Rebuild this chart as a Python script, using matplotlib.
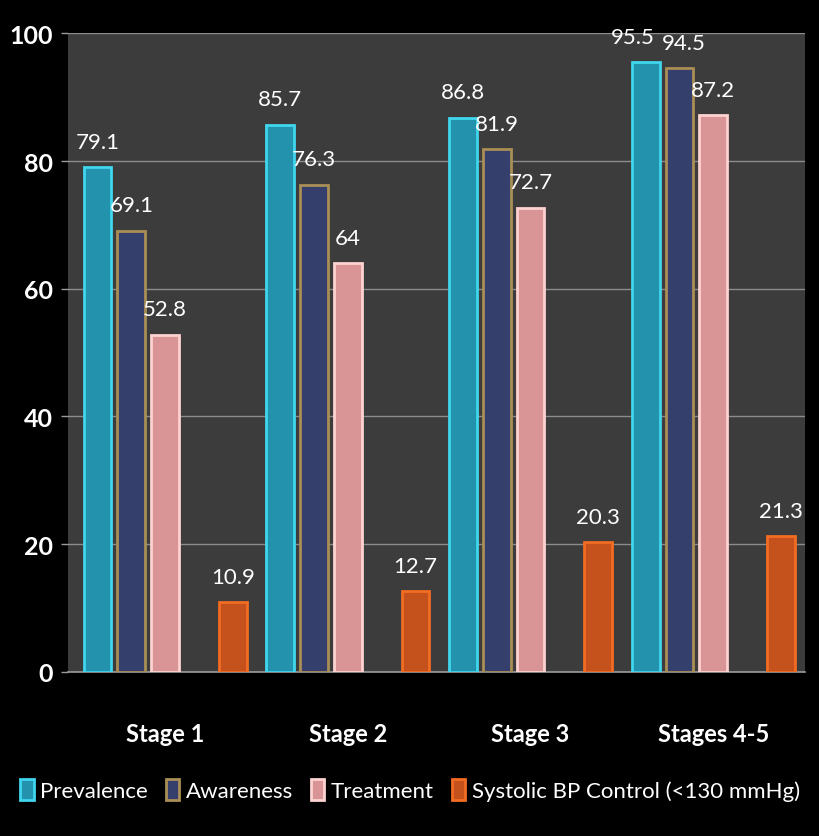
import matplotlib
matplotlib.use("Agg")
import matplotlib.pyplot as plt
import numpy as np

stages = ["Stage 1", "Stage 2", "Stage 3", "Stages 4-5"]
series = ["Prevalence", "Awareness", "Treatment", "Systolic BP Control (<130 mmHg)"]
prevalence = [79.1, 85.7, 86.8, 95.5]
awareness = [69.1, 76.3, 81.9, 94.5]
treatment = [52.8, 64, 72.7, 87.2]
systolic = [10.9, 12.7, 20.3, 21.3]
value_labels = [
    ["79.1", "85.7", "86.8", "95.5"],
    ["69.1", "76.3", "81.9", "94.5"],
    ["52.8", "64", "72.7", "87.2"],
    ["10.9", "12.7", "20.3", "21.3"],
]

fills = ["#2393ad", "#343f6c", "#d99595", "#c5521c"]
edges = ["#3fd6ee", "#a98f55", "#ffd2d2", "#f26c22"]
slots = [0, 1, 2, 4]  # slot 3 is an empty gap in the original chart
# nudge the two crowded labels in the last group apart (points)
nudge = {(0, 3): -9, (1, 3): 3}

plt.rcParams["font.family"] = ["Lato", "DejaVu Sans"]

fig = plt.figure(figsize=(8.2, 8.37), dpi=100, facecolor="black")
ax = fig.add_axes([0.083, 0.196, 0.899, 0.763])
ax.set_facecolor("#3c3c3c")

x = np.arange(len(stages))
step = 0.185
width = 0.152
for k, vals in enumerate([prevalence, awareness, treatment, systolic]):
    pos = x + (slots[k] - 2) * step
    bars = ax.bar(pos, vals, width, color=fills[k], edgecolor=edges[k],
                  linewidth=2, label=series[k], zorder=3)
    for i, (b, txt) in enumerate(zip(bars, value_labels[k])):
        ax.annotate(txt, (b.get_x() + b.get_width() / 2, b.get_height()),
                    xytext=(nudge.get((k, i), 0), 11), textcoords="offset points",
                    ha="center", va="bottom", color="white", fontsize=16)

ax.set_xlim(-0.531, 3.503)
ax.set_ylim(0, 100)
ax.set_yticks([0, 20, 40, 60, 80, 100])
ax.yaxis.grid(True, color="#8c8c8c", linewidth=1, zorder=0)
ax.set_axisbelow(True)
for s in ["top", "right", "left"]:
    ax.spines[s].set_visible(False)
ax.spines["bottom"].set_color("#9a9a9a")
ax.spines["bottom"].set_linewidth(1.2)

ax.set_xticks(x)
ax.set_xticklabels(stages, fontsize=17, fontweight="bold", color="white")
ax.tick_params(axis="x", length=0, pad=36)
ax.tick_params(axis="y", colors="#9a9a9a", length=5, width=1, labelsize=18,
               labelcolor="white", pad=6)
for t in ax.get_yticklabels():
    t.set_fontweight("bold")

leg = fig.legend(loc="lower center", bbox_to_anchor=(0.5, 0.018), ncol=4,
                 frameon=False, fontsize=16, handlelength=0.6, handleheight=1.1,
                 handletextpad=0.3, columnspacing=0.8, labelcolor="white")

fig.savefig("out.png", dpi=100, facecolor="black")
